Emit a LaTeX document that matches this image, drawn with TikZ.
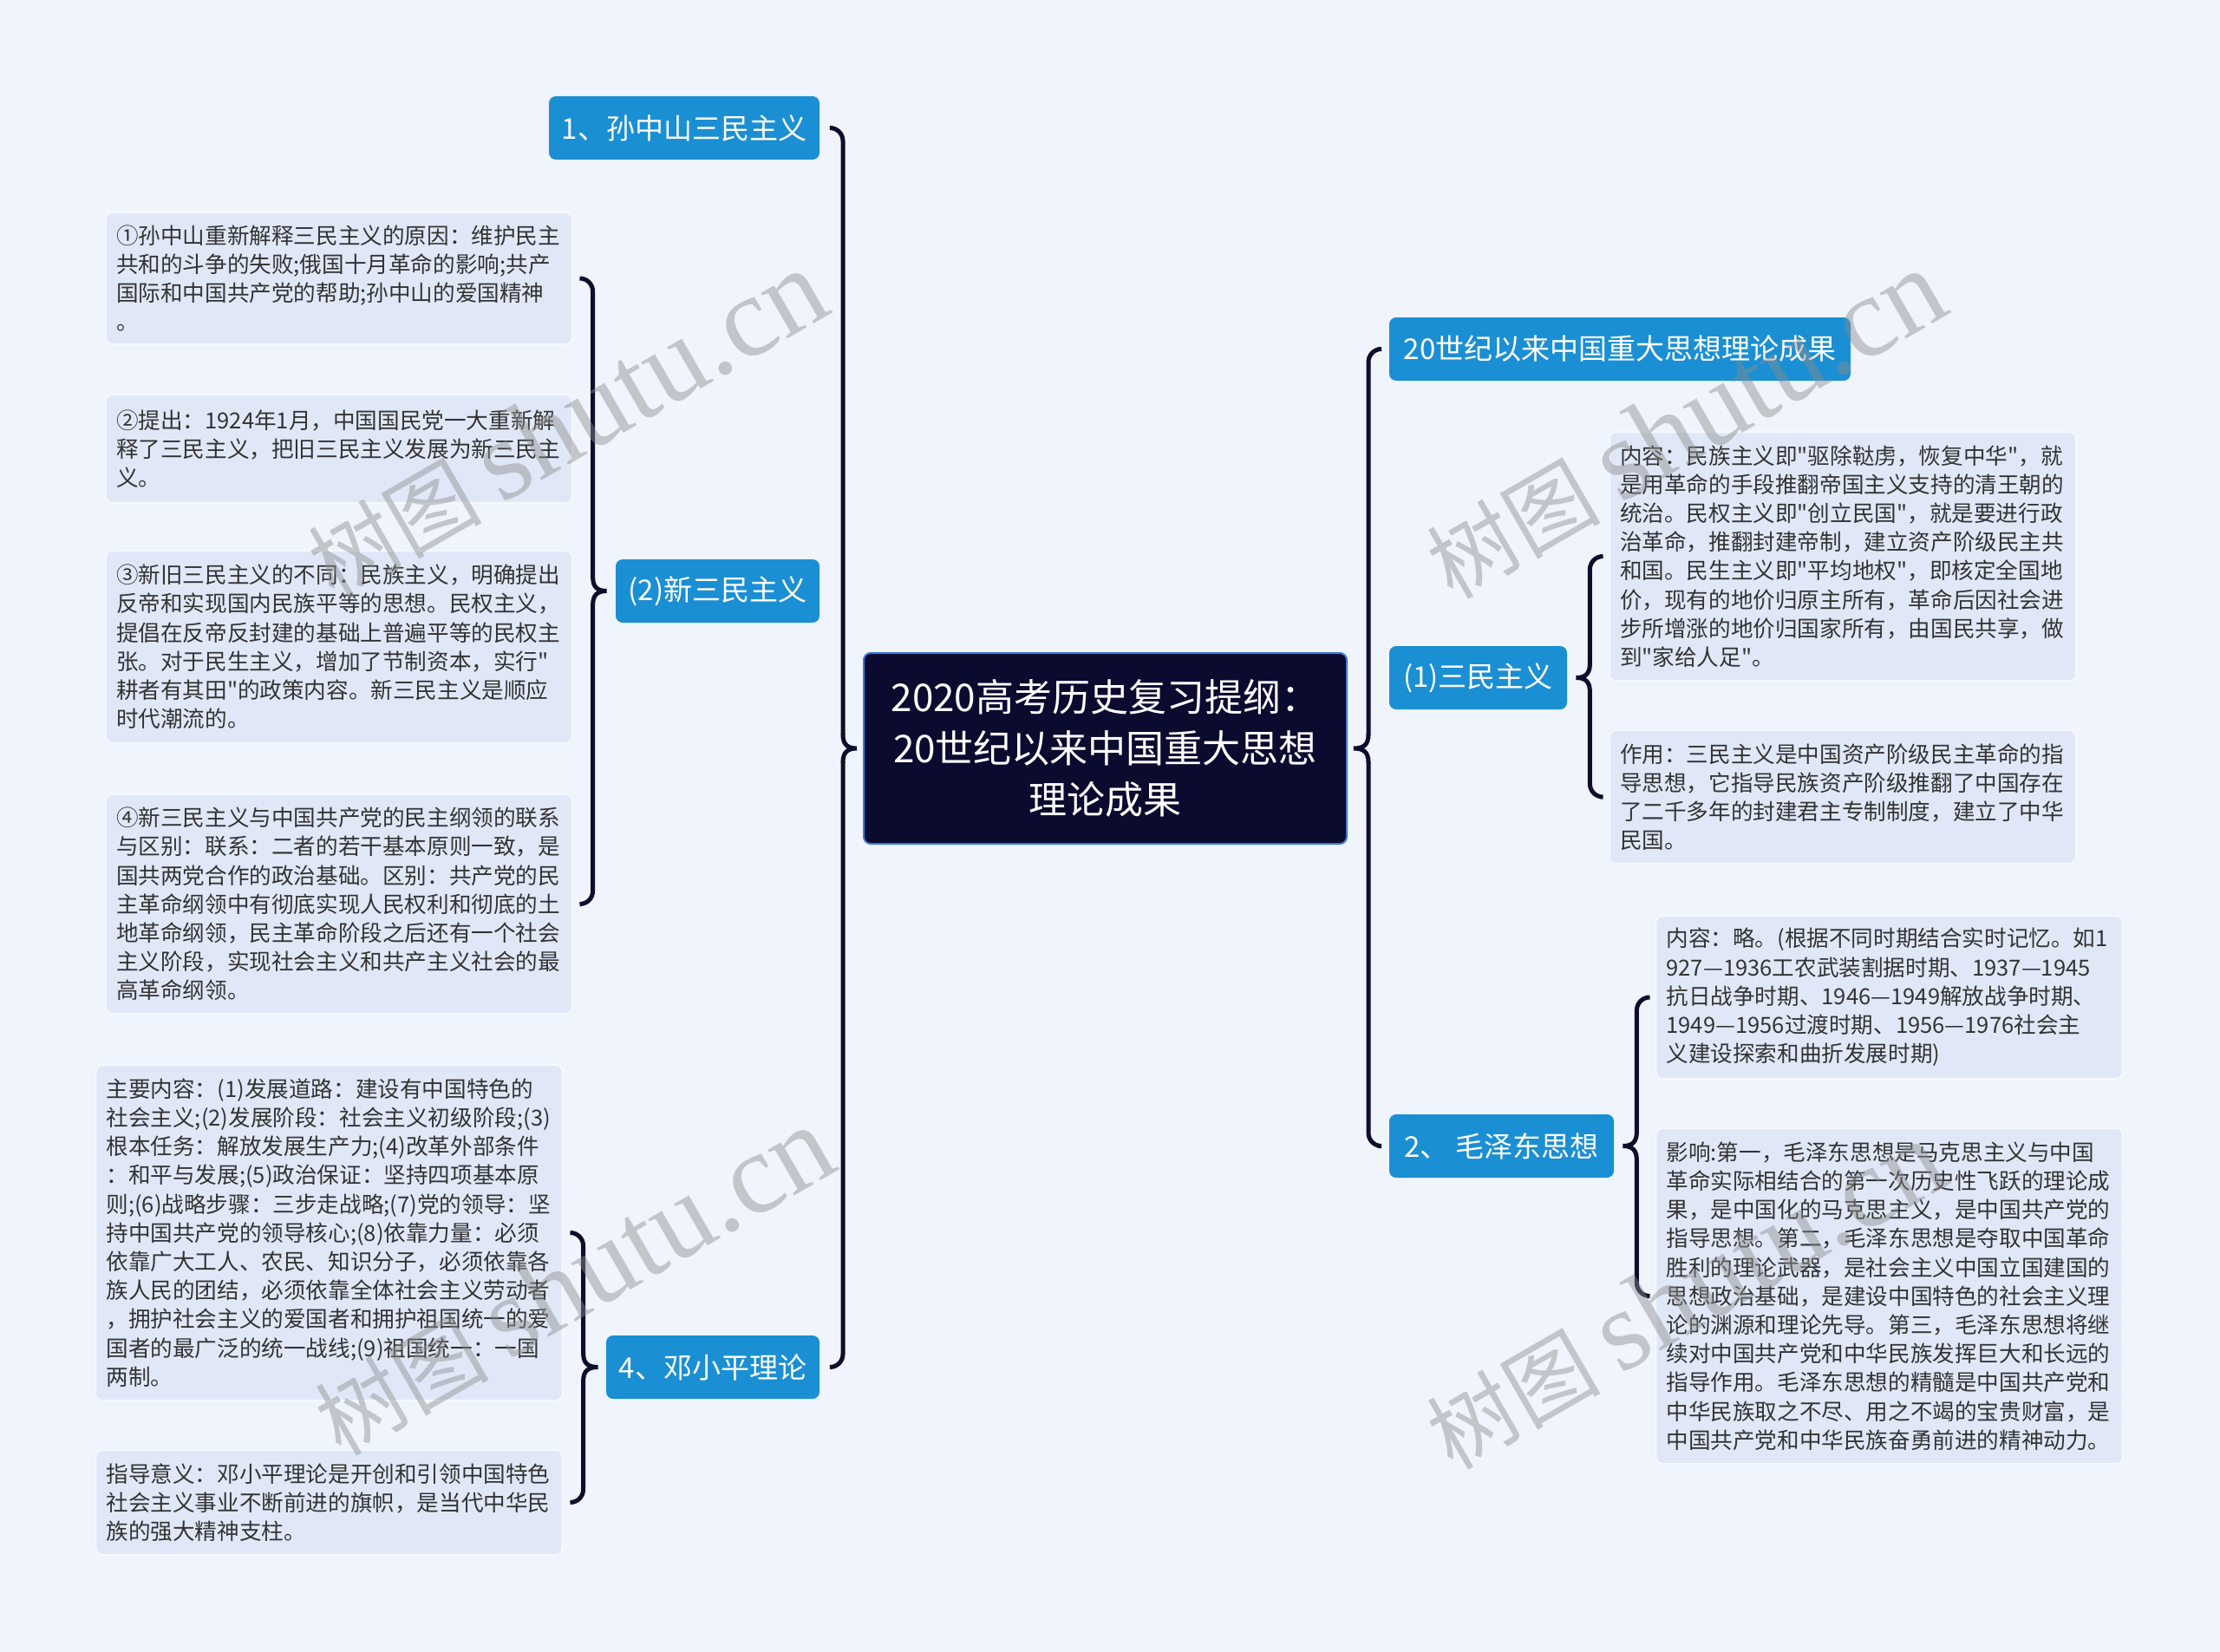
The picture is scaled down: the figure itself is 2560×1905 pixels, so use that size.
\documentclass[tikz,border=0pt]{standalone}
\usepackage{fontspec}
\setmainfont{Noto Sans CJK SC}[Ligatures=TeXOff]
\newfontfamily\wmlatin{Liberation Serif}
\usetikzlibrary{calc}
\definecolor{bgc}{HTML}{EFF4FD}
\definecolor{leaffill}{HTML}{E0E8F8}
\definecolor{leafdraw}{HTML}{F6F9FE}
\definecolor{leaftext}{HTML}{333333}
\definecolor{brfill}{HTML}{1B8FD3}
\definecolor{ctrfill}{HTML}{0B0A2F}
\definecolor{ctrdraw}{HTML}{3C7BD6}
\definecolor{conncol}{HTML}{0E0E2C}
\definecolor{wmcol}{HTML}{8C8C8C}

\newcommand{\braceL}[6]{%
  \coordinate (s) at ($(#1.west)+(#4,0)$);
  \draw[conn] ($(#2.east)+(#6,0)$) -- (s |- #2.east) -- ($(s)+(0,-16)$);
  \draw[conn,sharp corners] ($(s)+(0,-16)$) .. controls ($(s)+(0,-4)$) and ($(s)+(6,0)$) .. ($(#1.west)+(#5,0)$) .. controls ($(s)+(6,0)$) and ($(s)+(0,4)$) .. ($(s)+(0,16)$);
  \draw[conn] ($(s)+(0,16)$) -- (s |- #3.east) -- ($(#3.east)+(#6,0)$);
}
\newcommand{\braceR}[6]{%
  \coordinate (s) at ($(#1.east)+(#4,0)$);
  \draw[conn] ($(#2.west)+(#6,0)$) -- (s |- #2.west) -- ($(s)+(0,-16)$);
  \draw[conn,sharp corners] ($(s)+(0,-16)$) .. controls ($(s)+(0,-4)$) and ($(s)+(-6,0)$) .. ($(#1.east)+(#5,0)$) .. controls ($(s)+(-6,0)$) and ($(s)+(0,4)$) .. ($(s)+(0,16)$);
  \draw[conn] ($(s)+(0,16)$) -- (s |- #3.west) -- ($(#3.west)+(#6,0)$);
}

\begin{document}
\begin{tikzpicture}[x=0.5pt,y=-0.5pt,
  conn/.style={draw=conncol,line width=2.5pt,rounded corners=7.5pt,line cap=round},
  ctr/.style={fill=ctrfill,draw=ctrdraw,line width=1pt,rounded corners=4pt,text=white,align=center,
    minimum width=278.5pt,minimum height=110pt,inner sep=2pt,font=\fontsize{22pt}{29.4pt}\selectfont},
  br/.style={fill=brfill,text=white,rounded corners=4pt,minimum height=36.5pt,inner xsep=4pt,inner ysep=2pt,
    font=\fontsize{16.5pt}{20pt}\selectfont},
  lf/.style={fill=leaffill,draw=leafdraw,line width=0.8pt,rounded corners=4pt,text=leaftext,
    text width=257pt,align=left,inner xsep=6pt,inner ysep=3pt,font=\fontsize{12.8pt}{16.6pt}\selectfont},
  wm/.style={text=wmcol,text opacity=0.45,rotate=30,inner sep=0pt}
]
\fill[bgc] (0,0) rectangle (2560,1905);
\path[use as bounding box] (0,0) rectangle (2560,1905);

% center
\node[ctr] (C) at (1274.5,863) {2020高考历史复习提纲：\\20世纪以来中国重大思想\\理论成果};

% branches
\node[br,minimum width=156pt] (b1) at (789,147.5) {1、孙中山三民主义};
\node[br,minimum width=117.5pt] (b2) at (827.5,681.5) {(2)新三民主义};
\node[br,minimum width=123pt] (b4) at (822,1576.5) {4、邓小平理论};
\node[br,minimum width=266pt] (r1) at (1868,402.5) {20世纪以来中国重大思想理论成果};
\node[br,minimum width=102.5pt] (r2) at (1704.5,781.5) {(1)三民主义};
\node[br,minimum width=129.5pt] (r3) at (1731.5,1321.5) {2、 毛泽东思想};

% leaves left
\node[lf,minimum height=76pt] (L1) at (391,321) {①孙中山重新解释三民主义的原因：维护民主\\共和的斗争的失败;俄国十月革命的影响;共产\\国际和中国共产党的帮助;孙中山的爱国精神\\。};
\node[lf,minimum height=62.5pt] (L2) at (391,517.5) {②提出：1924年1月，中国国民党一大重新解\\释了三民主义，把旧三民主义发展为新三民主\\义。};
\node[lf,minimum height=111pt] (L3) at (391,746) {③新旧三民主义的不同：民族主义，明确提出\\反帝和实现国内民族平等的思想。民权主义，\\提倡在反帝反封建的基础上普遍平等的民权主\\张。对于民生主义，增加了节制资本，实行"\\耕者有其田"的政策内容。新三民主义是顺应\\时代潮流的。};
\node[lf,minimum height=126.5pt] (L4) at (391,1042.5) {④新三民主义与中国共产党的民主纲领的联系\\与区别：联系：二者的若干基本原则一致，是\\国共两党合作的政治基础。区别：共产党的民\\主革命纲领中有彻底实现人民权利和彻底的土\\地革命纲领，民主革命阶段之后还有一个社会\\主义阶段，实现社会主义和共产主义社会的最\\高革命纲领。};
\node[lf,minimum height=193.5pt] (D1) at (379.5,1421.5) {主要内容：(1)发展道路：建设有中国特色的\\社会主义;(2)发展阶段：社会主义初级阶段;(3)\\根本任务：解放发展生产力;(4)改革外部条件\\：和平与发展;(5)政治保证：坚持四项基本原\\则;(6)战略步骤：三步走战略;(7)党的领导：坚\\持中国共产党的领导核心;(8)依靠力量：必须\\依靠广大工人、农民、知识分子，必须依靠各\\族人民的团结，必须依靠全体社会主义劳动者\\，拥护社会主义的爱国者和拥护祖国统一的爱\\国者的最广泛的统一战线;(9)祖国统一：一国\\两制。};
\node[lf,minimum height=60.5pt] (D2) at (379.5,1732.5) {指导意义：邓小平理论是开创和引领中国特色\\社会主义事业不断前进的旗帜，是当代中华民\\族的强大精神支柱。};

% leaves right
\node[lf,minimum height=143.5pt] (S1) at (2125,641.5) {内容：民族主义即"驱除鞑虏，恢复中华"，就\\是用革命的手段推翻帝国主义支持的清王朝的\\统治。民权主义即"创立民国"，就是要进行政\\治革命，推翻封建帝制，建立资产阶级民主共\\和国。民生主义即"平均地权"，即核定全国地\\价，现有的地价归原主所有，革命后因社会进\\步所增涨的地价归国家所有，由国民共享，做\\到"家给人足"。};
\node[lf,minimum height=77pt] (S2) at (2125,919) {作用：三民主义是中国资产阶级民主革命的指\\导思想，它指导民族资产阶级推翻了中国存在\\了二千多年的封建君主专制制度，建立了中华\\民国。};
\node[lf,minimum height=94pt] (M1) at (2178.5,1150) {内容：略。(根据不同时期结合实时记忆。如1\\927—1936工农武装割据时期、1937—1945\\抗日战争时期、1946—1949解放战争时期、\\1949—1956过渡时期、1956—1976社会主\\义建设探索和曲折发展时期)};
\node[lf,minimum height=193.5pt] (M2) at (2178.5,1494.5) {影响:第一，毛泽东思想是马克思主义与中国\\革命实际相结合的第一次历史性飞跃的理论成\\果，是中国化的马克思主义，是中国共产党的\\指导思想。第二，毛泽东思想是夺取中国革命\\胜利的理论武器，是社会主义中国立国建国的\\思想政治基础，是建设中国特色的社会主义理\\论的渊源和理论先导。第三，毛泽东思想将继\\续对中国共产党和中华民族发挥巨大和长远的\\指导作用。毛泽东思想的精髓是中国共产党和\\中华民族取之不尽、用之不竭的宝贵财富，是\\中国共产党和中华民族奋勇前进的精神动力。};

% connectors
\braceL{C}{b1}{b4}{-23}{-7}{12}
\braceR{C}{r1}{r3}{24}{7}{-12}
\braceL{b2}{L1}{L4}{-26}{-10}{9}
\braceL{b4}{D1}{D2}{-26}{-9}{9}
\braceR{r2}{S1}{S2}{26}{10}{-9}
\braceR{r3}{M1}{M2}{26}{10}{-9}

% watermarks
\node[wm] (w1) at (653,490) {\fontsize{50pt}{50pt}\selectfont 树图 {\wmlatin\fontsize{66pt}{66pt}\selectfont shutu.cn}};
\node[wm] (w2) at (661,1478) {\fontsize{50pt}{50pt}\selectfont 树图 {\wmlatin\fontsize{66pt}{66pt}\selectfont shutu.cn}};
\node[wm] (w3) at (1943,490) {\fontsize{50pt}{50pt}\selectfont 树图 {\wmlatin\fontsize{66pt}{66pt}\selectfont shutu.cn}};
\node[wm] (w4) at (1943,1494) {\fontsize{50pt}{50pt}\selectfont 树图 {\wmlatin\fontsize{66pt}{66pt}\selectfont shutu.cn}};
\end{tikzpicture}
\end{document}
